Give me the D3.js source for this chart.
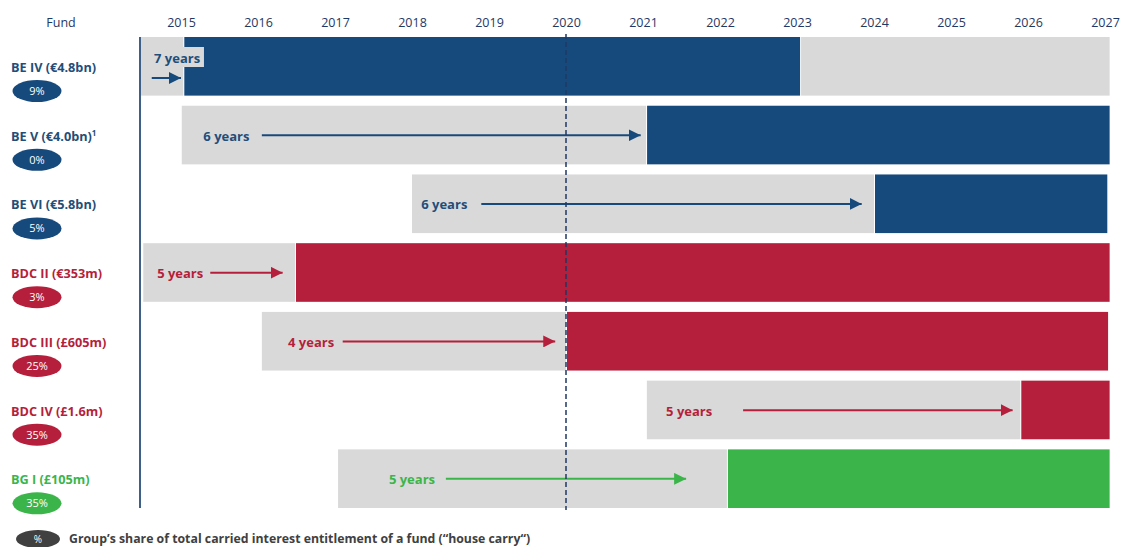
<!DOCTYPE html>
<html>
<head>
<meta charset="utf-8">
<script src="https://cdn.jsdelivr.net/npm/d3@7"></script>
<style>
  body { margin: 0; background: #fff; }
  svg { font-family: "Open Sans", Lato, sans-serif; }
</style>
</head>
<body>
<svg id="chart" width="1121" height="547"></svg>
<script>
// fund rows
var funds = ["BE IV (€4.8bn)", "BE V (€4.0bn)", "BE VI (€5.8bn)", "BDC II (€353m)", "BDC III (£605m)", "BDC IV (£1.6m)", "BG I (£105m)"];
var houseCarry = ["9%", "0%", "5%", "3%", "25%", "35%", "35%"];
var fundType = ["be", "be", "be", "bdc", "bdc", "bdc", "bg"];
var durationLabels = ["7 years", "6 years", "6 years", "5 years", "4 years", "5 years", "5 years"];

// timeline (years)
var investStart = [2014.48, 2015.01, 2018.0, 2014.51, 2016.05, 2021.05, 2017.04];
var carryStart  = [2015.03, 2021.04, 2024.0, 2016.48, 2020.0, 2025.9, 2022.09];
var carryEnd    = [2023.04, 2027.06, 2027.03, 2027.06, 2027.04, 2027.06, 2027.06];
var tailEnd     = [2027.06, null, null, null, null, null, null];
var arrowFrom   = [2014.62, 2016.05, 2018.9, 2015.38, 2017.1, 2022.3, 2018.44];
var arrowTo     = [2015.0, 2020.97, 2023.84, 2016.32, 2019.86, 2025.8, 2021.56];
var labelAt     = [2014.65, 2015.29, 2018.12, 2014.69, 2016.39, 2021.3, 2017.7];
var years = d3.range(2015, 2028);
var today = 2020;

var colors = { be: "#174a7c", bdc: "#b51f3b", bg: "#3bb54a" };
var textColors = { be: "#1f4e79", bdc: "#b51f3b", bg: "#3bb54a" };
var grey = "#d9d9d9";

var svg = d3.select("#chart");

var x = d3.scaleLinear().domain([2015, 2027]).range([181, 1105]);
var y = d3.scaleBand().domain(funds).range([37, 508]).paddingInner(0.147).paddingOuter(0);

// top year axis
var xAxis = d3.axisTop(x).tickValues(years).tickFormat(d3.format("d")).tickSize(0).tickPadding(0);
var ax = svg.append("g").attr("transform", "translate(0,27)").call(xAxis);
ax.select(".domain").remove();
ax.selectAll("text").attr("fill", "#1f3864").style("font-size", "12.5px")
  .style("font-family", "'Open Sans', sans-serif").attr("dy", 0);

svg.append("text")
  .attr("x", 61).attr("y", 27)
  .attr("text-anchor", "middle")
  .attr("fill", "#1f3864")
  .style("font-size", "12.5px")
  .text("Fund");

var rows = svg.append("g").selectAll("g")
  .data(funds).enter()
  .append("g")
  .attr("transform", function (d) { return "translate(0," + y(d) + ")"; });

var bh = y.bandwidth();

// grey investment period
rows.append("rect")
  .attr("x", function (d, i) { return x(investStart[i]); })
  .attr("width", function (d, i) { return x(carryStart[i]) - x(investStart[i]); })
  .attr("height", bh)
  .attr("fill", grey);

// trailing grey (BE IV only)
rows.filter(function (d, i) { return tailEnd[i] != null; })
  .append("rect")
  .attr("x", function (d) { var i = funds.indexOf(d); return x(carryEnd[i]) + 1; })
  .attr("width", function (d) { var i = funds.indexOf(d); return x(tailEnd[i]) - x(carryEnd[i]) - 1; })
  .attr("height", bh)
  .attr("fill", grey);

// coloured carry period
rows.append("rect")
  .attr("x", function (d, i) { return x(carryStart[i]) + 1; })
  .attr("width", function (d, i) { return x(carryEnd[i]) - x(carryStart[i]) - 1; })
  .attr("height", bh)
  .attr("fill", function (d, i) { return colors[fundType[i]]; });

// arrow markers
Object.keys(colors).forEach(function (k) {
  svg.append("defs").append("marker")
    .attr("id", "arrow-" + k)
    .attr("viewBox", "0 0 10 10")
    .attr("refX", 10).attr("refY", 5)
    .attr("markerWidth", 6).attr("markerHeight", 6)
    .attr("markerUnits", "strokeWidth")
    .attr("orient", "auto")
    .append("path")
    .attr("d", "M0,0 L10,5 L0,10 Z")
    .attr("fill", colors[k]);
});

// BE IV label box sits over the blue bar
rows.filter(function (d, i) { return i === 0; })
  .append("rect")
  .attr("x", x(investStart[0]))
  .attr("y", 10)
  .attr("width", 63)
  .attr("height", 20)
  .attr("fill", grey);

rows.append("line")
  .attr("x1", function (d, i) { return x(arrowFrom[i]); })
  .attr("x2", function (d, i) { return x(arrowTo[i]); })
  .attr("y1", function (d, i) { return i === 0 ? 41 : 29.5; })
  .attr("y2", function (d, i) { return i === 0 ? 41 : 29.5; })
  .attr("stroke", function (d, i) { return colors[fundType[i]]; })
  .attr("stroke-width", 2)
  .attr("marker-end", function (d, i) { return "url(#arrow-" + fundType[i] + ")"; });

rows.append("text")
  .attr("x", function (d, i) { return x(labelAt[i]); })
  .attr("y", function (d, i) { return i === 0 ? 26 : 35; })
  .attr("fill", function (d, i) { return textColors[fundType[i]]; })
  .style("font-size", "13px")
  .style("font-weight", "bold")
  .text(function (d, i) { return durationLabels[i]; });

// left axis line
svg.append("line")
  .attr("x1", 140).attr("x2", 140)
  .attr("y1", 37).attr("y2", 508)
  .attr("stroke", "#3d5f8a").attr("stroke-width", 2);

// 2020 dashed line
svg.append("line")
  .attr("x1", x(today)).attr("x2", x(today))
  .attr("y1", 34).attr("y2", 510)
  .attr("stroke", "#1f3864").attr("stroke-width", 1.5)
  .attr("stroke-dasharray", "5,3");

// fund names and house carry pills
var names = rows.append("text")
  .attr("x", 11)
  .attr("y", 35)
  .attr("fill", function (d, i) { return textColors[fundType[i]]; })
  .style("font-size", "12.7px")
  .style("font-weight", "bold")
  .text(function (d) { return d; });
names.filter(function (d, i) { return i === 1; })
  .append("tspan")
  .attr("dy", -5)
  .style("font-size", "8px")
  .text("1");

rows.append("ellipse")
  .attr("cx", 37).attr("cy", 54)
  .attr("rx", 24.5).attr("ry", 11)
  .attr("fill", function (d, i) { return colors[fundType[i]]; });

rows.append("text")
  .attr("x", 37).attr("y", 58)
  .attr("text-anchor", "middle")
  .attr("fill", "#fff")
  .style("font-size", "11px")
  .text(function (d, i) { return houseCarry[i]; });

// legend
svg.append("ellipse")
  .attr("cx", 38).attr("cy", 539)
  .attr("rx", 22).attr("ry", 9)
  .attr("fill", "#404040");
svg.append("text")
  .attr("x", 38).attr("y", 543)
  .attr("text-anchor", "middle")
  .attr("fill", "#fff")
  .style("font-size", "10px")
  .text("%");
svg.append("text")
  .attr("x", 69).attr("y", 543)
  .attr("fill", "#404040")
  .style("font-size", "12.3px")
  .style("font-weight", "bold")
  .text("Group’s share of total carried interest entitlement of a fund (“house carry“)");
</script>
</body>
</html>
